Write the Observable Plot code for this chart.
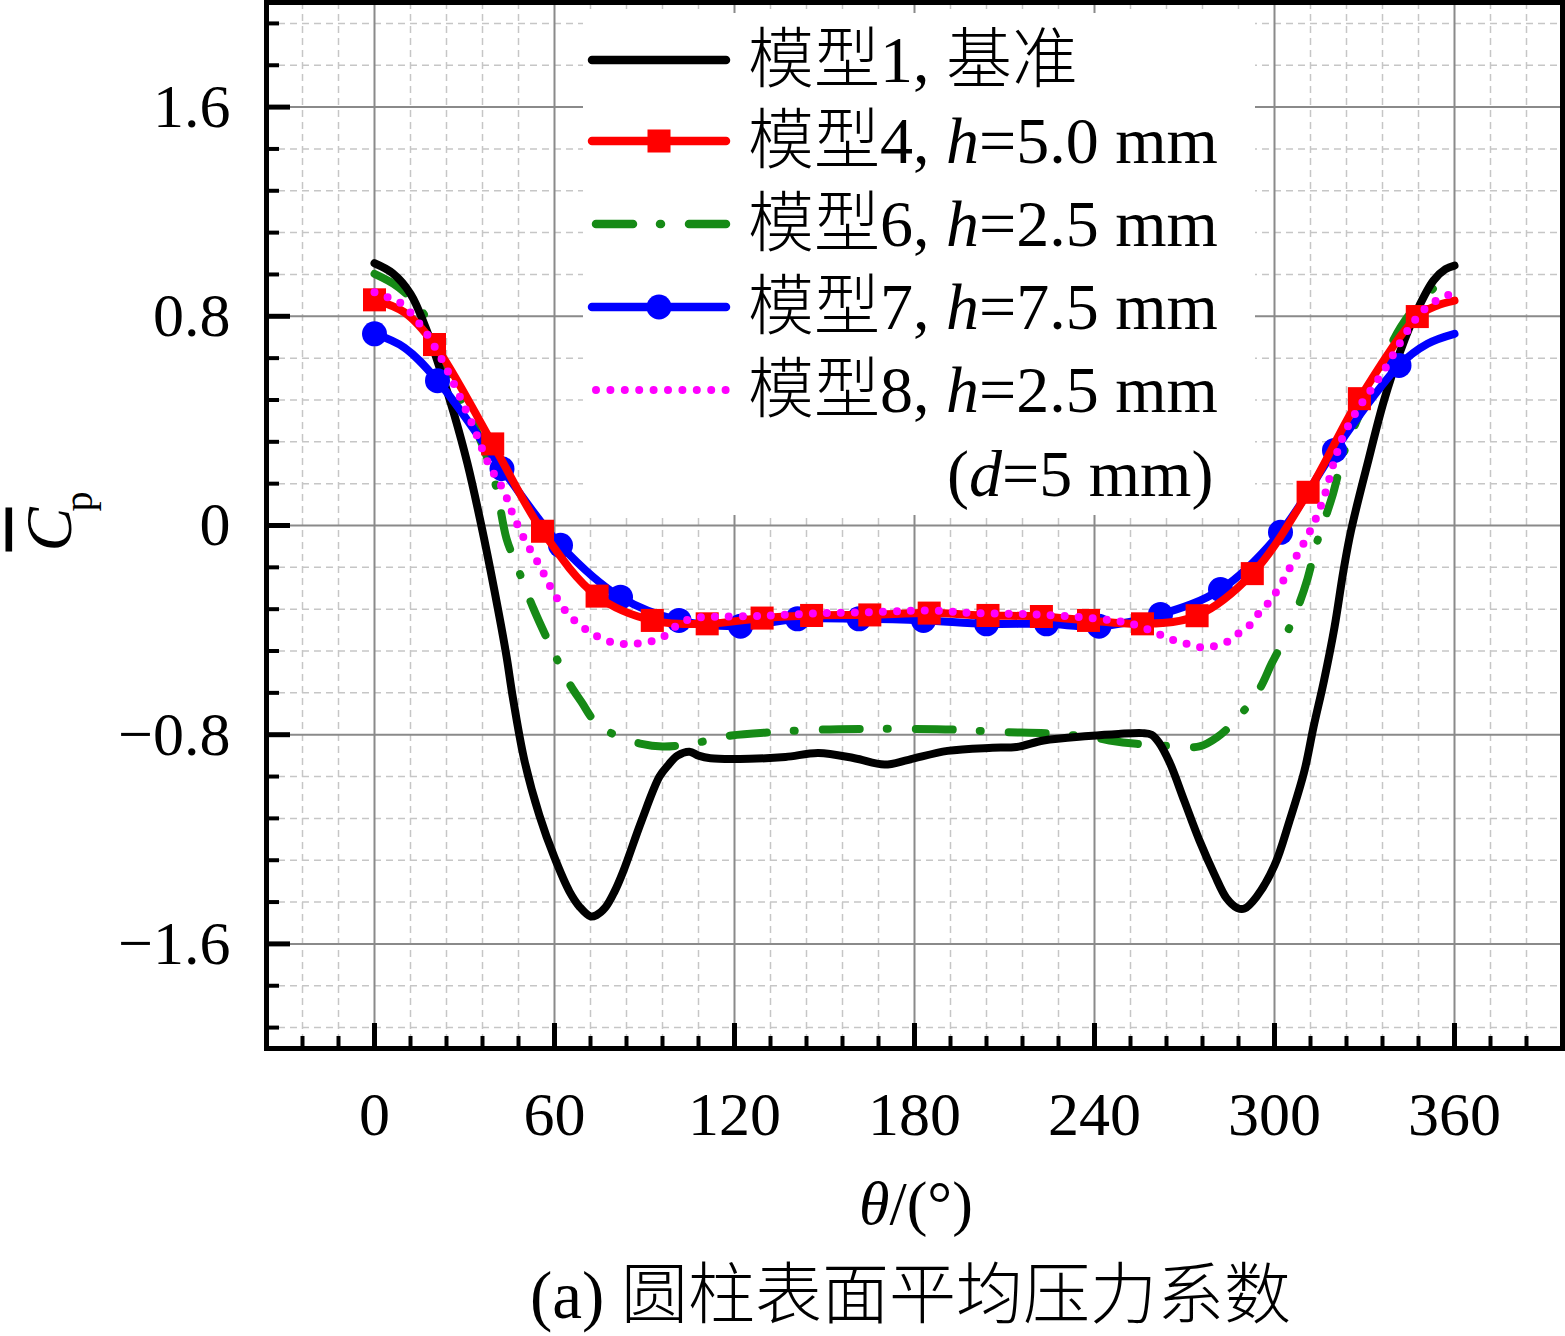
<!DOCTYPE html>
<html><head><meta charset="utf-8">
<script src="https://cdn.jsdelivr.net/npm/d3@7"></script>
<script src="https://cdn.jsdelivr.net/npm/@observablehq/plot@0.6"></script>
<style>
body{margin:0;background:#fff;}
#wrap{position:relative;width:1565px;height:1336px;overflow:hidden;font-family:'Liberation Serif','Noto Sans CJK SC',serif;}
#legend{position:absolute;left:583px;top:13px;width:672px;height:502px;background:#fff;}
.row{position:absolute;left:0;height:80px;width:672px;}
.row svg{position:absolute;left:0;top:0;overflow:visible;}
.row span{position:absolute;left:165px;top:0;line-height:80px;font-size:66px;font-weight:300;white-space:nowrap;color:#000;}
</style></head>
<body><div id="wrap"></div>
<script>
// ---- tick arrays ----
const xMajor = [0, 60, 120, 180, 240, 300, 360];
const xMinor = [-24,-12,12,24,36,48,72,84,96,108,132,144,156,168,192,204,216,228,252,264,276,288,312,324,336,348,372,384];
const yMajor = [-1.6, -0.8, 0, 0.8, 1.6];
const yMinor = [-1.92,-1.76,-1.44,-1.28,-1.12,-0.96,-0.64,-0.48,-0.32,-0.16,0.16,0.32,0.48,0.64,0.96,1.12,1.28,1.44,1.76,1.92];

// ---- 模型1, 基准 ----
const m1Theta = [0,6,12,17,22,26.5,31,35.5,40,44,46,50,55,60,65,68.5,72,74,77,80,83,89,95,98,101,105,108,112,125,137,148,160,170,178,191,206,214,223,238,248,256,259,261.5,265,270,275,280,284,287.5,290,294,300,305,310,313,316.5,320,323,325.5,331,336.5,342,347.5,353,357,360];
const m1Cp = [1.003,0.965,0.886,0.758,0.593,0.427,0.236,0.006,-0.25,-0.5,-0.65,-0.9,-1.11,-1.27,-1.40,-1.46,-1.495,-1.49,-1.46,-1.40,-1.32,-1.13,-0.96,-0.915,-0.88,-0.865,-0.88,-0.89,-0.892,-0.885,-0.87,-0.89,-0.914,-0.896,-0.862,-0.85,-0.847,-0.822,-0.805,-0.797,-0.794,-0.80,-0.83,-0.905,-1.055,-1.205,-1.335,-1.425,-1.462,-1.465,-1.42,-1.30,-1.13,-0.937,-0.771,-0.593,-0.389,-0.172,-0.02,0.236,0.478,0.669,0.822,0.937,0.98,0.994];

// ---- 模型4, h=5.0 mm : curve and markers ----
const m4Theta = [0,10,20,39.4,56,74.2,92.6,110.9,129.2,145.7,165.1,184.9,204.5,222.3,238,256,274.2,292.6,311.2,328.3,347.6,354,360];
const m4Cp = [0.863,0.815,0.692,0.312,-0.022,-0.270,-0.363,-0.376,-0.354,-0.344,-0.342,-0.335,-0.344,-0.348,-0.363,-0.376,-0.345,-0.184,0.127,0.485,0.799,0.84,0.860];
const m4MarkTheta = [0,20,39.4,56,74.2,92.6,110.9,129.2,145.7,165.1,184.9,204.5,222.3,238,256,274.2,292.6,311.2,328.3,347.6];
const m4MarkCp = [0.863,0.692,0.312,-0.022,-0.270,-0.363,-0.376,-0.354,-0.344,-0.342,-0.335,-0.344,-0.348,-0.363,-0.376,-0.345,-0.184,0.127,0.485,0.799];

// ---- 模型6, h=2.5 mm ----
const m6Theta = [0,8,16,23,28,34,40,44,47.5,53,59,65,69,74,80,89,96,104,112,119,133,148,163,179,194,209,224,239,245,254,265,275,281,287.5,295,299,303,308,311,314,317,319.5,323,326,334,342,350,357.5,360];
const m6Cp = [0.962,0.911,0.816,0.631,0.50,0.363,0.172,-0.05,-0.155,-0.318,-0.468,-0.605,-0.675,-0.758,-0.80,-0.835,-0.845,-0.838,-0.82,-0.803,-0.79,-0.781,-0.778,-0.778,-0.781,-0.79,-0.795,-0.809,-0.822,-0.835,-0.843,-0.845,-0.809,-0.739,-0.625,-0.529,-0.44,-0.306,-0.204,-0.07,0.032,0.121,0.274,0.363,0.567,0.758,0.873,0.950,0.962];

// ---- 模型7, h=7.5 mm : curve and markers ----
const m7Theta = [0,10,21,42.5,62,82,101.5,122,141,161.5,183,204,224,241.5,262,282,302,320,341.5,351,360];
const m7Cp = [0.733,0.68,0.554,0.217,-0.076,-0.274,-0.363,-0.385,-0.357,-0.357,-0.363,-0.376,-0.376,-0.385,-0.340,-0.245,-0.026,0.287,0.612,0.695,0.733];
const m7MarkTheta = [0,21,42.5,62,82,101.5,122,141,161.5,183,204,224,241.5,262,282,302,320,341.5];
const m7MarkCp = [0.733,0.554,0.217,-0.076,-0.274,-0.363,-0.385,-0.357,-0.357,-0.363,-0.376,-0.376,-0.385,-0.340,-0.245,-0.026,0.287,0.612];

// ---- 模型8, h=2.5 mm (d=5 mm) ----
const m8Theta = [0,4,9,16,22,27.5,33,38,43,46.5,50.5,55,59,64,71,79,87.5,96,101.5,106,112,130,150,170,185,200,220,240,252,260,265,270,274.5,279,284,287,291,294,297,299.5,302,304,309,313,316.5,320,323,327.5,332,336.5,341,345.5,349,353,357.5,360];
const m8Cp = [0.892,0.875,0.848,0.756,0.644,0.516,0.376,0.236,0.134,0.032,-0.064,-0.153,-0.242,-0.331,-0.402,-0.446,-0.452,-0.427,-0.376,-0.355,-0.35,-0.345,-0.335,-0.33,-0.325,-0.335,-0.34,-0.355,-0.375,-0.408,-0.433,-0.450,-0.465,-0.463,-0.446,-0.42,-0.39,-0.345,-0.31,-0.27,-0.232,-0.185,-0.083,0.006,0.108,0.249,0.344,0.440,0.516,0.593,0.682,0.765,0.816,0.854,0.880,0.885];

// ---- text ----
const seriesLabels = ["模型1, 基准", "模型4, <i>h</i>=5.0 mm", "模型6, <i>h</i>=2.5 mm", "模型7, <i>h</i>=7.5 mm", "模型8, <i>h</i>=2.5 mm"];
const extraLabel = "(<i>d</i>=5 mm)";
const yLabelSym = "C", yLabelSub = "p";
const xLabelSym = "θ", xLabelUnit = "/(°)";
const caption = "(a) 圆柱表面平均压力系数";

const tbl = (T, C) => T.map((t, i) => ({theta: t, cp: C[i]}));
const d1 = tbl(m1Theta, m1Cp), d4 = tbl(m4Theta, m4Cp), d6 = tbl(m6Theta, m6Cp), d7 = tbl(m7Theta, m7Cp), d8 = tbl(m8Theta, m8Cp);
const p4 = tbl(m4MarkTheta, m4MarkCp), p7 = tbl(m7MarkTheta, m7MarkCp);

const W = 1565, H = 1336, mL = 266, mR = 3, mT = 2, mB = 288;
const pw = W - mL - mR, ph = H - mT - mB;
const FONT = "'Liberation Serif','Noto Sans CJK SC',serif";
const fmtY = d => d === 0 ? "0" : d.toFixed(1).replace("-", "\u2212");
const GREEN = "#168a16";

const chart = Plot.plot({
  width: W, height: H,
  marginLeft: mL, marginRight: mR, marginTop: mT, marginBottom: mB,
  style: {fontFamily: FONT, fontSize: "62px", background: "#fff", color: "#000"},
  x: {domain: [-36, 396]},
  y: {domain: [-2, 2]},
  marks: [
    Plot.gridX(xMinor, {stroke: "#c6c6c6", strokeOpacity: 1, strokeWidth: 1.5, strokeDasharray: "7,5"}),
    Plot.gridY(yMinor, {stroke: "#c6c6c6", strokeOpacity: 1, strokeWidth: 1.5, strokeDasharray: "7,5"}),
    Plot.gridX(xMajor, {stroke: "#8a8a8a", strokeOpacity: 1, strokeWidth: 2}),
    Plot.gridY(yMajor, {stroke: "#8a8a8a", strokeOpacity: 1, strokeWidth: 2}),

    Plot.line(d6, {x: "theta", y: "cp", curve: "catmull-rom", stroke: GREEN, strokeWidth: 8, strokeDasharray: "37 27 1 28", strokeLinecap: "round"}),
    Plot.line(d1, {x: "theta", y: "cp", curve: "catmull-rom", stroke: "#000", strokeWidth: 8, strokeLinecap: "round", strokeLinejoin: "round"}),
    Plot.line(d7, {x: "theta", y: "cp", curve: "catmull-rom", stroke: "#0000ff", strokeWidth: 8, strokeLinecap: "round"}),
    Plot.dot(p7, {x: "theta", y: "cp", r: 12.5, fill: "#0000ff", stroke: "none"}),
    Plot.line(d4, {x: "theta", y: "cp", curve: "catmull-rom", stroke: "#ff0000", strokeWidth: 8, strokeLinecap: "round"}),
    Plot.dot(p4, {x: "theta", y: "cp", r: 13, symbol: "square", fill: "#ff0000", stroke: "none"}),
    Plot.line(d8, {x: "theta", y: "cp", curve: "catmull-rom", stroke: "#ff00ff", strokeWidth: 8, strokeDasharray: "0 14", strokeLinecap: "round"}),

    // inward ticks
    Plot.tickX(xMinor, {x: d => d, stroke: "#000", strokeWidth: 4, insetTop: ph - 12}),
    Plot.tickX(xMajor, {x: d => d, stroke: "#000", strokeWidth: 5, insetTop: ph - 25}),
    Plot.tickY(yMinor, {y: d => d, stroke: "#000", strokeWidth: 4, insetRight: pw - 13}),
    Plot.tickY(yMajor, {y: d => d, stroke: "#000", strokeWidth: 5, insetRight: pw - 24}),
    Plot.frame({stroke: "#000", strokeWidth: 5}),

    Plot.axisX(xMajor, {tickSize: 0, tickPadding: 42, fontSize: 62, label: null}),
    Plot.axisY(yMajor, {tickSize: 0, tickPadding: 36, fontSize: 62, tickFormat: fmtY, label: null}),

    // y label: C (with overbar) and subscript p
    Plot.text([yLabelSym], {text: d => d, frameAnchor: "left", rotate: -90, fontStyle: "italic", fontSize: 66, textAnchor: "middle", lineAnchor: "bottom", dx: -196, dy: 4, className: "ylab-c"}),
    Plot.text([yLabelSub], {text: d => d, frameAnchor: "left", rotate: -90, fontSize: 40, textAnchor: "middle", lineAnchor: "bottom", dx: -175, dy: -24}),

    // x label
    Plot.text([xLabelSym], {text: d => d, frameAnchor: "bottom", fontStyle: "italic", fontSize: 62, textAnchor: "end", lineAnchor: "bottom", dx: -25, dy: 175}),
    Plot.text([xLabelUnit], {text: d => d, frameAnchor: "bottom", fontSize: 62, textAnchor: "start", lineAnchor: "bottom", dx: -25, dy: 175}),

    // caption
    Plot.text([caption], {text: d => d, frameAnchor: "bottom", fontSize: 67, fontWeight: 300, textAnchor: "middle", lineAnchor: "bottom", dx: -4, dy: 269})
  ]
});
// overbar on the mean-pressure symbol
d3.select(chart).selectAll("g.ylab-c text").style("text-decoration", "overline");
const wrap = document.getElementById("wrap");
wrap.appendChild(chart);

// ---- legend overlay ----
const legend = document.createElement("div");
legend.id = "legend";
wrap.appendChild(legend);
const centers = [60, 141, 224, 307, 390];
const swatches = [
  `<line x1="9" x2="143" y1="40" y2="40" stroke="#000" stroke-width="8.5" stroke-linecap="round"/>`,
  `<line x1="9" x2="143" y1="40" y2="40" stroke="#ff0000" stroke-width="8.5" stroke-linecap="round"/><rect x="64.5" y="28.5" width="23" height="23" fill="#ff0000"/>`,
  `<line x1="13" x2="143" y1="40" y2="40" stroke="${GREEN}" stroke-width="8.5" stroke-dasharray="37 27 1 28" stroke-linecap="round"/>`,
  `<line x1="9" x2="143" y1="40" y2="40" stroke="#0000ff" stroke-width="8.5" stroke-linecap="round"/><circle cx="76" cy="40" r="12.5" fill="#0000ff"/>`,
  `<line x1="13" x2="143" y1="40" y2="40" stroke="#ff00ff" stroke-width="8" stroke-dasharray="0 14.4" stroke-linecap="round"/>`
];
seriesLabels.forEach((lab, i) => {
  const row = document.createElement("div");
  row.className = "row";
  row.style.top = (centers[i] - 13 - 40) + "px";
  row.innerHTML = `<svg width="160" height="80">${swatches[i]}</svg><span>${lab}</span>`;
  legend.appendChild(row);
});
const extra = document.createElement("div");
extra.className = "row";
extra.style.top = (474 - 13 - 40) + "px";
extra.innerHTML = `<span style="left:364px">${extraLabel}</span>`;
legend.appendChild(extra);
</script></body></html>
